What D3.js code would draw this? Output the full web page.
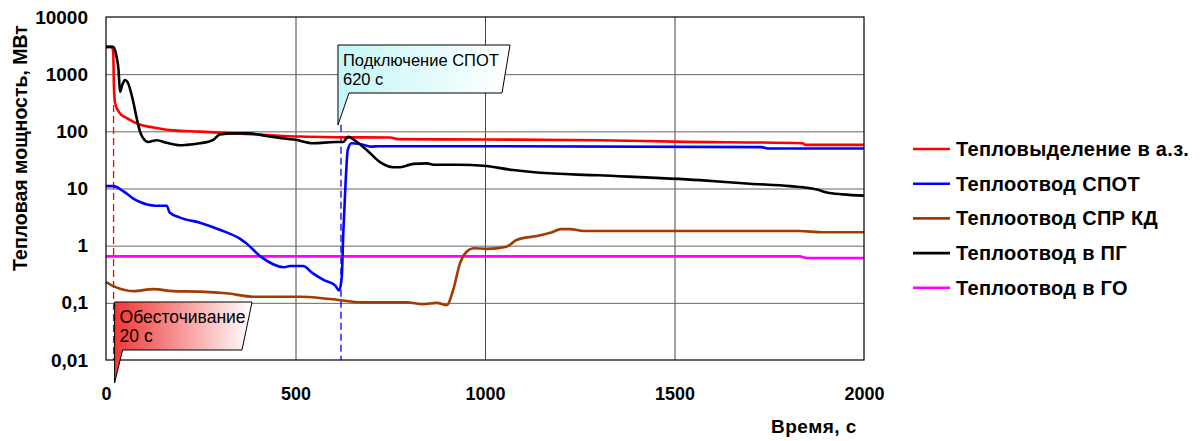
<!DOCTYPE html>
<html>
<head>
<meta charset="utf-8">
<script src="https://cdn.jsdelivr.net/npm/d3@7"></script>
<style>
  body { margin: 0; background: #fff; }
  svg { font-family: 'Liberation Sans', Arial, sans-serif; }
</style>
</head>
<body>
<svg id="chart"></svg>
<script>
// series data (time, s / power, MW)
const redT = [0, 15, 19, 21, 24, 37, 55, 90, 125, 177, 248, 336, 424, 512, 600, 750, 770, 1000, 1300, 1500, 1838, 1845, 2000];
const redV = [3000, 3000, 2500, 600, 310, 205, 170, 130, 117, 104, 99, 92, 86, 81, 79, 78, 73, 72, 70, 66, 62, 58, 58];

const blueT = [0, 20, 40, 55, 70, 90, 130, 160, 168, 195, 250, 300, 355, 370, 410, 470, 485, 520, 545, 575, 605, 615, 622, 626, 632, 638, 648, 670, 700, 720, 1000, 1730, 1745, 2000];
const blueV = [11, 11, 9.5, 8.1, 6.8, 5.8, 5.0, 5.0, 3.8, 3.1, 2.5, 1.9, 1.3, 1.1, 0.63, 0.42, 0.44, 0.44, 0.33, 0.25, 0.2, 0.165, 0.28, 1.6, 12, 48, 62, 60, 54, 55, 55, 53, 50, 50];

const brownT = [0, 24, 72, 125, 177, 248, 318, 389, 512, 591, 679, 793, 837, 873, 899, 916, 934, 952, 969, 1004, 1057, 1083, 1137, 1175, 1200, 1225, 1260, 1830, 1890, 2000];
const brownV = [0.23, 0.19, 0.16, 0.174, 0.16, 0.157, 0.147, 0.128, 0.128, 0.117, 0.102, 0.102, 0.095, 0.1, 0.091, 0.168, 0.49, 0.79, 0.9, 0.88, 0.96, 1.26, 1.48, 1.7, 1.95, 1.95, 1.8, 1.8, 1.72, 1.72];

const blackT = [0, 19, 28, 33, 37, 43, 50, 58, 71, 81, 90, 98, 111, 134, 160, 195, 213, 248, 270, 283, 300, 336, 380, 424, 477, 500, 547, 605, 625, 639, 662, 688, 723, 758, 776, 811, 847, 864, 934, 995, 1074, 1137, 1300, 1567, 1699, 1805, 1876, 1902, 1944, 2000];
const blackV = [3000, 3000, 2000, 1200, 490, 650, 790, 700, 350, 170, 98, 76, 65, 70, 63, 57, 58, 62, 66, 71, 88, 92, 92, 83, 74, 71, 62, 65, 65, 80, 65, 47, 29, 23.6, 23.6, 27, 27.5, 26, 26, 25, 21, 19, 17, 14, 12.1, 11, 9.6, 8.5, 7.9, 7.5];

const magentaT = [0, 1830, 1850, 2000];
const magentaV = [0.65, 0.65, 0.61, 0.61];

const seriesNames = ['Тепловыделение в а.з.', 'Теплоотвод СПОТ', 'Теплоотвод СПР КД', 'Теплоотвод в ПГ', 'Теплоотвод в ГО'];
const seriesColors = ['#ff0000', '#0000ff', '#a03c00', '#000000', '#ff00ff'];

const xTicks = [0, 500, 1000, 1500, 2000];
const yTicks = [0.01, 0.1, 1, 10, 100, 1000, 10000];
const yTickLabels = ['0,01', '0,1', '1', '10', '100', '1000', '10000'];

// events: power-off at 20 s, СПОТ connection at 620 s
const eventT = [20, 620];
const eventTopV = [290, 130];
const eventColors = ['#ff0000', '#0000ff'];

const width = 1200;
const height = 441;
const plotLeft = 106, plotRight = 864, plotTop = 17, plotBottom = 360;

const svg = d3.select('#chart').attr('width', width).attr('height', height);

const xScale = d3.scaleLinear().domain([0, 2000]).range([plotLeft, plotRight]);
const yScale = d3.scaleLog().domain([0.01, 10000]).range([plotBottom, plotTop]);

// grid
svg.append('g')
   .attr('transform', 'translate(0,' + plotBottom + ')')
   .call(d3.axisBottom(xScale).tickValues(xTicks.slice(1, -1)).tickSize(-(plotBottom - plotTop)).tickFormat(''))
   .call(g => g.select('.domain').remove())
   .selectAll('line').attr('stroke', '#444');

svg.append('g')
   .attr('transform', 'translate(' + plotLeft + ',0)')
   .call(d3.axisLeft(yScale).tickValues(yTicks.slice(1, -1)).tickSize(-(plotRight - plotLeft)).tickFormat(''))
   .call(g => g.select('.domain').remove())
   .selectAll('line').attr('stroke', '#666');

// axis labels
svg.append('g')
   .attr('transform', 'translate(0,' + plotBottom + ')')
   .call(d3.axisBottom(xScale).tickValues(xTicks).tickSize(0).tickPadding(27).tickFormat(d3.format('d')))
   .call(g => g.select('.domain').remove())
   .selectAll('text')
   .style('font-size', '18px').style('font-weight', 'bold').attr('fill', '#000')
   .style('font-family', "'Liberation Sans', Arial, sans-serif");

svg.append('g')
   .attr('transform', 'translate(' + (plotLeft - 18) + ',0)')
   .call(d3.axisLeft(yScale).tickValues(yTicks).tickSize(0).tickPadding(0).tickFormat((d, i) => yTickLabels[i]))
   .call(g => g.select('.domain').remove())
   .selectAll('text')
   .style('font-size', '19px').style('font-weight', 'bold').attr('fill', '#000')
   .style('font-family', "'Liberation Sans', Arial, sans-serif");

// event dashed lines
eventT.forEach((t, i) => {
  svg.append('line')
     .attr('x1', xScale(t)).attr('x2', xScale(t))
     .attr('y1', yScale(eventTopV[i])).attr('y2', plotBottom)
     .attr('stroke', eventColors[i])
     .attr('stroke-width', 1.3)
     .attr('stroke-dasharray', '7,4');
});

// lines
const lineGen = d3.line()
  .x(d => xScale(d[0]))
  .y(d => yScale(d[1]))
  .curve(d3.curveMonotoneX);

const allSeries = [
  [redT, redV], [blueT, blueV], [brownT, brownV], [blackT, blackV], [magentaT, magentaV]
];
const drawOrder = [4, 2, 1, 0, 3];

drawOrder.forEach(i => {
  const [ts, vs] = allSeries[i];
  svg.append('path')
     .datum(ts.map((t, j) => [t, vs[j]]))
     .attr('d', lineGen)
     .attr('fill', 'none')
     .attr('stroke', seriesColors[i])
     .attr('stroke-width', 2.6)
     .attr('stroke-linejoin', 'round');
});

// plot border
svg.append('rect')
   .attr('x', plotLeft).attr('y', plotTop)
   .attr('width', plotRight - plotLeft).attr('height', plotBottom - plotTop)
   .attr('fill', 'none').attr('stroke', '#000').attr('stroke-width', 1.2);

// callouts
const defs = svg.append('defs');
const g1 = defs.append('linearGradient').attr('id', 'gradRed');
g1.append('stop').attr('offset', '0%').attr('stop-color', '#f03838');
g1.append('stop').attr('offset', '100%').attr('stop-color', '#ffffff');
const g2 = defs.append('linearGradient').attr('id', 'gradCyan');
g2.append('stop').attr('offset', '0%').attr('stop-color', '#c4f6f8');
g2.append('stop').attr('offset', '100%').attr('stop-color', '#ffffff');

const drawCallout = (tipX, tipY, boxTop, boxBottom, boxRight, slant, baseW, fill, lines, size) => {
  const p = d3.path();
  p.moveTo(tipX, boxTop);
  p.lineTo(boxRight, boxTop);
  p.lineTo(boxRight - slant, boxBottom);
  p.lineTo(tipX + baseW, boxBottom);
  p.lineTo(tipX, tipY);
  p.closePath();
  svg.append('path')
     .attr('d', p.toString())
     .attr('fill', fill)
     .attr('stroke', '#000')
     .attr('stroke-width', 1);
  lines.forEach((s, i) => {
    svg.append('text')
       .attr('x', tipX + 5)
       .attr('y', boxTop + 21 + i * 18.5)
       .style('font-size', size)
       .attr('fill', '#000')
       .text(s);
  });
};

drawCallout(xScale(eventT[0]) + 1, 383, 302, 350, 252, 10, 8, 'url(#gradRed)', ['Обесточивание', '20 с'], '17.5px');
drawCallout(xScale(eventT[1]) - 3, 125, 45, 93, 510, 8, 11, 'url(#gradCyan)', ['Подключение СПОТ', '620 с'], '16.5px');

// legend
seriesNames.forEach((name, i) => {
  const y = 149 + i * 34.7;
  svg.append('line')
     .attr('x1', 913).attr('x2', 950)
     .attr('y1', y).attr('y2', y)
     .attr('stroke', seriesColors[i]).attr('stroke-width', 2.6);
  svg.append('text')
     .attr('x', 956).attr('y', y + 7)
     .style('font-size', '20px').style('font-weight', 'bold')
     .style('letter-spacing', '0.3px')
     .text(name);
});

// axis titles
svg.append('text')
   .attr('x', 814).attr('y', 433)
   .attr('text-anchor', 'middle')
   .style('font-size', '19px').style('font-weight', 'bold')
   .style('letter-spacing', '0.5px')
   .text('Время, с');

svg.append('text')
   .attr('transform', 'translate(27,148) rotate(-90)')
   .attr('text-anchor', 'middle')
   .style('font-size', '19.5px').style('font-weight', 'bold')
   .text('Тепловая мощность, МВт');
</script>
</body>
</html>
